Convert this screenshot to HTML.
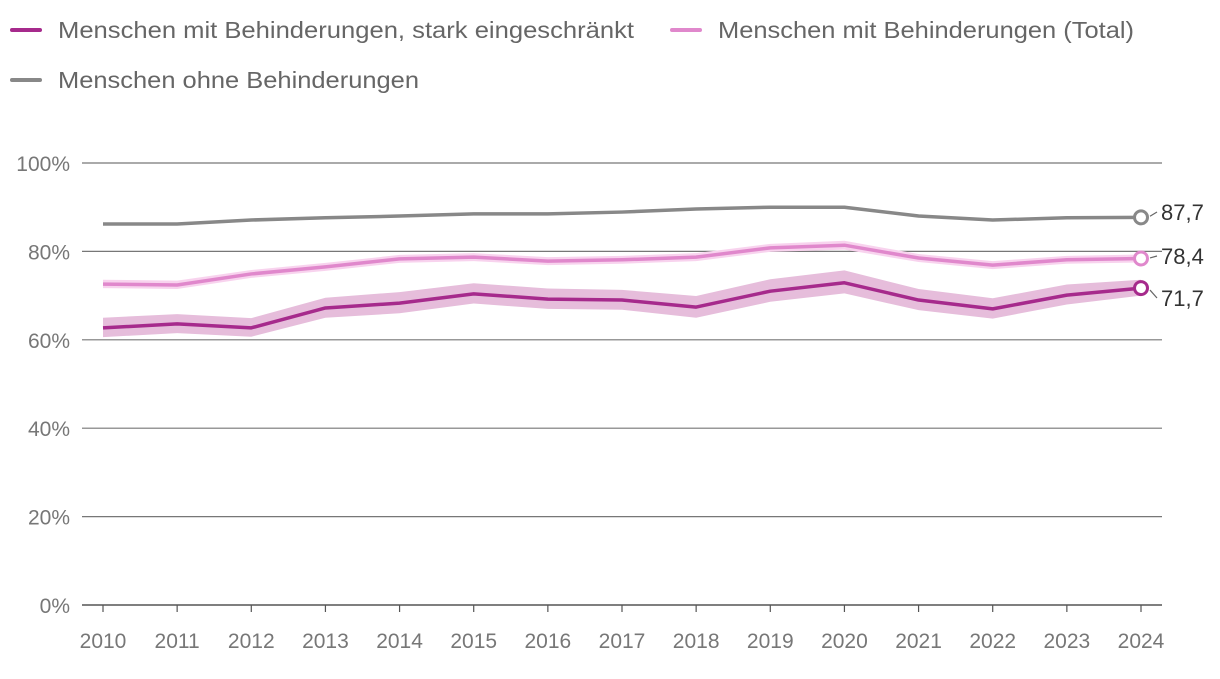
<!DOCTYPE html>
<html><head><meta charset="utf-8"><style>
body{margin:0;background:#fff;font-family:"Liberation Sans",sans-serif}
svg text{font-family:"Liberation Sans",sans-serif}
</style></head><body>
<svg id="c" width="1220" height="674">
<g>
<g><line x1="12" y1="30" x2="40" y2="30" stroke="#a62a8c" stroke-width="4" stroke-linecap="round"/><text x="58" y="38" font-size="23" fill="#666" textLength="576" lengthAdjust="spacingAndGlyphs">Menschen mit Behinderungen, stark eingeschränkt</text></g>
<g><line x1="672" y1="30" x2="700" y2="30" stroke="#e088cc" stroke-width="4" stroke-linecap="round"/><text x="718" y="38" font-size="23" fill="#666" textLength="416" lengthAdjust="spacingAndGlyphs">Menschen mit Behinderungen (Total)</text></g>
<g><line x1="12" y1="80" x2="40" y2="80" stroke="#888" stroke-width="4" stroke-linecap="round"/><text x="58" y="88" font-size="23" fill="#666" textLength="361" lengthAdjust="spacingAndGlyphs">Menschen ohne Behinderungen</text></g>
</g>
<g id="grid"></g><g id="bands"></g><g id="lines"></g><g id="axes"></g>
</svg>
<script>
const years=[2010,2011,2012,2013,2014,2015,2016,2017,2018,2019,2020,2021,2022,2023,2024];
const noneVals=[86.2,86.2,87.1,87.6,88.0,88.5,88.5,88.9,89.6,90.0,90.0,88.0,87.1,87.6,87.7];
const totalVals=[72.6,72.4,74.9,76.5,78.3,78.7,77.8,78.1,78.7,80.8,81.4,78.5,76.9,78.1,78.4];
const totalHi=[73.6,73.4,75.8,77.4,79.2,79.6,78.7,79.0,79.6,81.7,82.4,79.4,77.8,79.0,79.3];
const totalLo=[71.7,71.5,74.0,75.6,77.4,77.8,76.9,77.2,77.8,79.9,80.4,77.6,76.0,77.2,77.5];
const severeVals=[62.7,63.6,62.7,67.2,68.3,70.4,69.2,69.0,67.4,71.0,72.9,69.0,67.0,70.1,71.7];
const severeHi=[65.0,65.8,64.9,69.5,70.8,72.8,71.6,71.3,69.9,73.7,75.7,71.5,69.4,72.5,73.6];
const severeLo=[60.6,61.5,60.7,65.0,66.0,68.2,67.0,66.8,65.0,68.6,70.5,66.7,64.8,68.0,70.0];
const yTicks=[0,20,40,60,80,100];
const NS="http://www.w3.org/2000/svg";
const x=i=>103+i*(1141-103)/(years.length-1);
const y=v=>605-v*4.42;
function mk(t,a,p){const e=document.createElementNS(NS,t);for(const k in a)e.setAttribute(k,a[k]);p.appendChild(e);return e;}
const G=document.getElementById('grid'),B=document.getElementById('bands'),L=document.getElementById('lines'),A=document.getElementById('axes');
yTicks.forEach(t=>{
 const l=mk('line',{x1:82,x2:1162,y1:y(t),y2:y(t),stroke:t==0?'#555':'#777','stroke-width':t==0?1.5:1.2},G);
 
 
 const tx=mk('text',{x:70,y:y(t)+8,'text-anchor':'end','font-size':21,fill:'#777'},A);tx.textContent=t+'%';
 
 
});
years.forEach((yr,i)=>{
 const tk=mk('line',{x1:x(i),x2:x(i),y1:605,y2:612,stroke:'#555','stroke-width':1.2},A);
 
 
 const t=mk('text',{x:x(i),y:648,'text-anchor':'middle','font-size':21,fill:'#777'},A);t.textContent=yr;
 
 
});
function band(hi,lo,col,name){
 let d='M'+hi.map((v,i)=>x(i)+','+y(v)).join('L')+'L'+lo.map((v,i)=>x(i)+','+y(v)).reverse().join('L')+'Z';
 const p=mk('path',{d:d,fill:col},B);
 
 
}
band(totalHi,totalLo,'#f8d3ee','band-total');
band(severeHi,severeLo,'#e6bddb','band-severe');
function line(vals,col,name,lbl,ly){
 const p=mk('path',{d:'M'+vals.map((v,i)=>x(i)+','+y(v)).join('L'),fill:'none',stroke:col,'stroke-width':3.5,'stroke-linejoin':'round'},L);
 
 
 const n=vals.length-1,cx=x(n),cy=y(vals[n]);
 const c=mk('circle',{cx:cx,cy:cy,r:6.5,fill:'#fff',stroke:col,'stroke-width':3},L);
 
 
 mk('line',{x1:cx+9,y1:cy+(ly-cy)*0.2,x2:cx+16,y2:ly,stroke:'#666','stroke-width':1.2},L);
 const t=mk('text',{x:cx+20,y:ly+8,'font-size':22,fill:'#333'},L);t.textContent=vals[n].toFixed(1).replace('.',',');
 
 
}
line(noneVals,'#888','none',0,212);
line(totalVals,'#e088cc','total',0,256);
line(severeVals,'#a62a8c','severe',0,298);
</script>
</body></html>
